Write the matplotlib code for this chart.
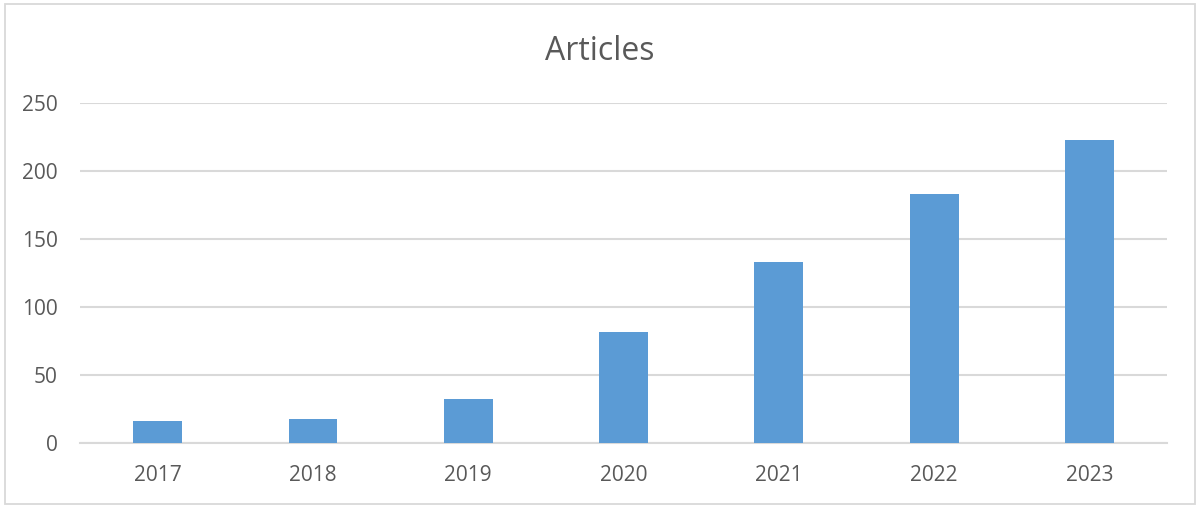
import matplotlib
matplotlib.use("Agg")
import matplotlib.pyplot as plt
from matplotlib.patches import Rectangle

# values
years = ["2017", "2018", "2019", "2020", "2021", "2022", "2023"]
articles = [16, 18, 32, 82, 133, 183, 223]
yticks = [0, 50, 100, 150, 200, 250]

barColor = "#5B9BD5"
gridColor = "#D9D9D9"
textColor = "#595959"

plt.rcParams["font.family"] = ["Open Sans", "DejaVu Sans"]

fig = plt.figure(figsize=(12, 5.08), dpi=100)
ax = fig.add_axes([0.0667, 0.128, 0.9058, 0.669])

x = list(range(len(years)))
ax.bar(x, articles, width=0.315, color=barColor, zorder=3)

ax.set_xlim(-0.5, len(years) - 0.5)
ax.set_ylim(0, 250)
ax.set_yticks(yticks)
ax.set_xticks(x)
ax.set_xticklabels(years)

ax.yaxis.grid(True, color=gridColor, linewidth=1.5, zorder=0)
for side in ["top", "right", "left"]:
    ax.spines[side].set_visible(False)
ax.spines["bottom"].set_color(gridColor)
ax.spines["bottom"].set_linewidth(1.5)
ax.tick_params(axis="both", length=0, labelsize=15, colors=textColor)
ax.tick_params(axis="x", pad=16)
ax.tick_params(axis="y", pad=16)

fig.text(0.5, 0.899, "Articles", ha="center", va="center", fontsize=23, color=textColor)

# thin frame round the whole chart
fig.patches.append(Rectangle((0.004, 0.008), 0.992, 0.984, transform=fig.transFigure,
                             fill=False, edgecolor=gridColor, linewidth=1.3))

fig.savefig("out.png", dpi=100)
